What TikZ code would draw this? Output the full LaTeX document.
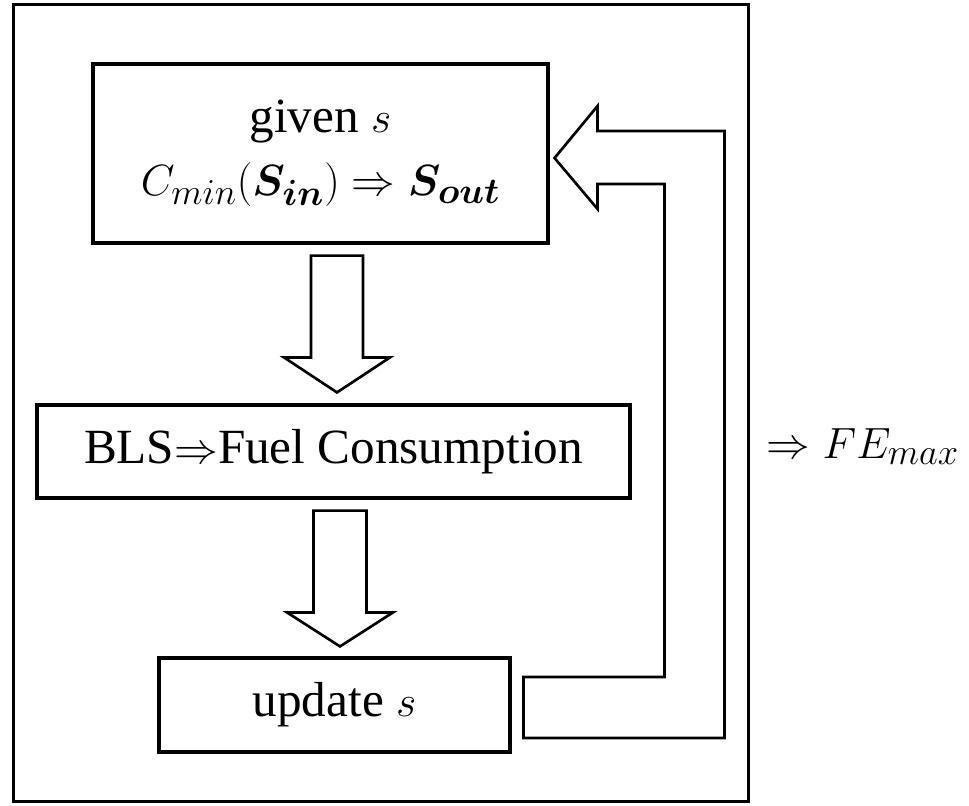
\documentclass[tikz,border=0pt]{standalone}
\usepackage{amsmath,amssymb}
\usepackage{fontspec}
\setmainfont{Liberation Serif}
\usepackage{tikz}
\usetikzlibrary{positioning,calc}
\tikzset{
  procbox/.style={draw=black, line width=1.8pt, fill=white, align=center, inner sep=0pt, font=\fontsize{28}{36}\selectfont},
  outerframe/.style={draw=black, line width=1.7pt, inner sep=0pt},
  hollowarr/.style={draw=black, line width=1.5pt, line join=miter, fill=white},
  sidelabel/.style={anchor=base west, inner sep=0pt, font=\fontsize{28}{36}\selectfont}
}
\begin{document}
\begin{tikzpicture}[x=0.02cm, y=-0.02cm]
\useasboundingbox (0,0) rectangle (969,805);
\node[outerframe, minimum width=14.72cm, minimum height=15.96cm] (loop) at (381,403) {};
\node[procbox, minimum width=9.1cm, minimum height=3.58cm] (given) at (320.5,153.5) {given $s$\\$C_{min}(\boldsymbol{S_{in}})\Rightarrow\boldsymbol{S_{out}}$};
\node[procbox, minimum width=11.86cm, minimum height=1.86cm] (bls) at (333.5,451.5) {BLS$\Rightarrow$Fuel Consumption};
\node[procbox, minimum width=7.02cm, minimum height=1.88cm] (upd) at (334.5,705) {update $s$};
\node[sidelabel] (fe) at ($(loop.east)+(16,55)$) {$\Rightarrow FE_{max}$};
\coordinate (t1) at ($(bls.north)+(3.5,-11)$);
\coordinate (s1) at ($(given.south -| t1)+(0,11)$);
\coordinate (t2) at ($(upd.north)+(5.5,-10)$);
\coordinate (s2) at ($(bls.south -| t2)+(0,11)$);
\coordinate (ft) at ($(given.east)+(5,4.5)$);
\coordinate (fb) at ($(upd.east)+(12,2.5)$);
\draw[hollowarr] (t1) -- ++(53,-35) -- ++(-27,0) |- ($(s1)+(26,0)$) -- ($(s1)+(-26,0)$) |- ($(t1)+(-26,-35)$) -- ++(-27,0) -- cycle;
\draw[hollowarr] (t2) -- ++(53,-34) -- ++(-26.5,0) |- ($(s2)+(26.5,0)$) -- ($(s2)+(-26.5,0)$) |- ($(t2)+(-26.5,-34)$) -- ++(-26.5,0) -- cycle;
\draw[hollowarr] (ft) -- ++(43,-52) -- ++(0,25) -| ($(fb)+(201,30.5)$) -- ($(fb)+(0,30.5)$) -- ($(fb)+(0,-30.5)$) -| ($(ft)+(110,26)$) -- ($(ft)+(43,26)$) -- ++(0,25) -- cycle;
\end{tikzpicture}
\end{document}
